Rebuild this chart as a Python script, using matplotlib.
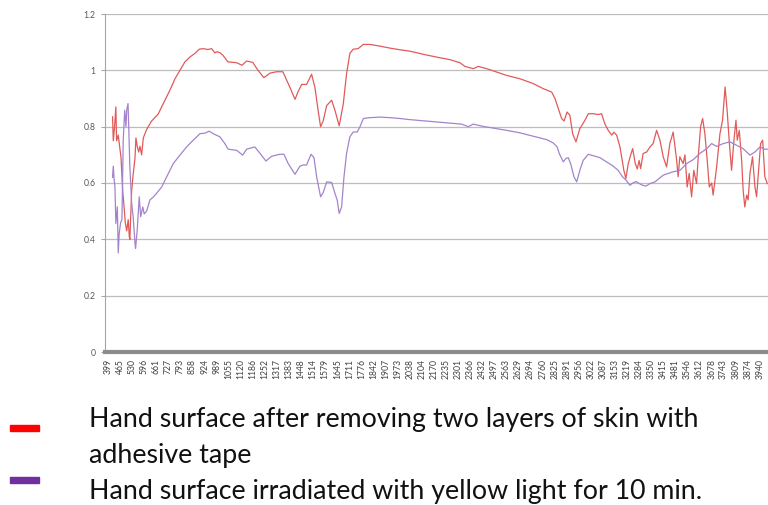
"""
Reflectance spectra of the hand surface (two treatments), Excel-style line chart
"""
import matplotlib
matplotlib.use("Agg")
import matplotlib.pyplot as plt
from matplotlib.patches import Rectangle


# -------------------------------
# DATA
# -------------------------------
tick_labels = [399, 465, 530, 596, 661, 727, 793, 858, 924, 989, 1055, 1120, 1186,
               1252, 1317, 1383, 1448, 1514, 1579, 1645, 1711, 1776, 1842, 1907,
               1973, 2038, 2104, 2170, 2235, 2301, 2366, 2432, 2497, 2563, 2629,
               2694, 2760, 2825, 2891, 2956, 3022, 3087, 3153, 3219, 3284, 3350,
               3415, 3481, 3546, 3612, 3678, 3743, 3809, 3874, 3940]

# tape-stripped hand surface
tape_wn = [424, 428, 435, 442, 446, 455, 464, 470, 479, 486, 493, 501, 509, 515,
           518, 528, 536, 546, 551, 558, 566, 573, 582, 591, 609, 636, 672, 698,
           736, 763, 790, 817, 844, 871, 895, 915, 942, 962, 980, 991, 1007, 1024,
           1051, 1098, 1127, 1152, 1186, 1214, 1246, 1279, 1315, 1349, 1387, 1415,
           1431, 1451, 1478, 1505, 1523, 1541, 1554, 1568, 1587, 1614, 1632, 1655,
           1677, 1695, 1713, 1731, 1758, 1786, 1822, 1876, 1930, 1985, 2039, 2111,
           2184, 2256, 2311, 2338, 2383, 2410, 2456, 2510, 2564, 2637, 2709, 2763,
           2809, 2827, 2845, 2863, 2876, 2893, 2908, 2923, 2941, 2962, 2990, 3008,
           3035, 3062, 3080, 3098, 3116, 3135, 3147, 3162, 3180, 3201, 3212, 3225,
           3238, 3249, 3263, 3274, 3284, 3292, 3306, 3325, 3343, 3360, 3379, 3397,
           3415, 3433, 3451, 3469, 3488, 3496, 3505, 3523, 3533, 3545, 3556, 3569,
           3581, 3596, 3605, 3618, 3629, 3641, 3654, 3665, 3678, 3686, 3705, 3723,
           3737, 3751, 3762, 3773, 3786, 3799, 3810, 3817, 3828, 3841, 3849, 3858,
           3868, 3876, 3886, 3900, 3913, 3922, 3933, 3944, 3955, 3967, 3980]
tape_val = [0.835, 0.75, 0.80, 0.87, 0.75, 0.77, 0.72, 0.69, 0.575, 0.52, 0.46, 0.43,
            0.47, 0.41, 0.40, 0.575, 0.63, 0.69, 0.76, 0.73, 0.71, 0.73, 0.70, 0.76,
            0.79, 0.82, 0.845, 0.88, 0.93, 0.97, 1.0, 1.03, 1.047, 1.06, 1.075,
            1.077, 1.074, 1.077, 1.062, 1.066, 1.063, 1.053, 1.03, 1.027, 1.018,
            1.033, 1.028, 1.0, 0.974, 0.99, 0.995, 0.995, 0.94, 0.897, 0.923, 0.95,
            0.95, 0.986, 0.94, 0.855, 0.80, 0.82, 0.875, 0.894, 0.858, 0.803, 0.88,
            0.988, 1.06, 1.075, 1.077, 1.092, 1.092, 1.086, 1.079, 1.073, 1.068,
            1.057, 1.047, 1.038, 1.027, 1.014, 1.006, 1.014, 1.006, 0.994, 0.982,
            0.97, 0.953, 0.935, 0.923, 0.90, 0.864, 0.829, 0.82, 0.852, 0.84, 0.775,
            0.746, 0.793, 0.823, 0.846, 0.846, 0.843, 0.846, 0.81, 0.787, 0.77, 0.78,
            0.77, 0.728, 0.645, 0.616, 0.669, 0.699, 0.722, 0.669, 0.65, 0.68,
            0.651, 0.705, 0.71, 0.728, 0.74, 0.787, 0.752, 0.693, 0.657, 0.74, 0.781,
            0.68, 0.622, 0.693, 0.669, 0.70, 0.586, 0.634, 0.551, 0.645, 0.598,
            0.693, 0.80, 0.829, 0.776, 0.68, 0.586, 0.60, 0.557, 0.657, 0.775,
            0.823, 0.941, 0.858, 0.752, 0.645, 0.752, 0.823, 0.752, 0.787, 0.68,
            0.574, 0.515, 0.557, 0.54, 0.634, 0.693, 0.586, 0.551, 0.645, 0.74,
            0.752, 0.622, 0.598]

# yellow-light irradiated hand surface
yellow_wn = [424, 428, 433, 437, 442, 450, 455, 460, 468, 475, 482, 490, 497, 501,
             508, 511, 518, 528, 536, 546, 549, 558, 569, 577, 588, 596, 609, 627,
             645, 664, 691, 718, 754, 790, 826, 862, 899, 926, 949, 971, 1007, 1034,
             1052, 1098, 1131, 1152, 1197, 1225, 1257, 1288, 1333, 1355, 1378, 1415,
             1442, 1460, 1478, 1502, 1518, 1533, 1554, 1568, 1587, 1614, 1632, 1644,
             1655, 1668, 1681, 1695, 1713, 1731, 1753, 1768, 1786, 1822, 1876, 1930,
             1985, 2039, 2111, 2184, 2256, 2320, 2356, 2383, 2437, 2492, 2564, 2637,
             2709, 2782, 2818, 2839, 2850, 2872, 2887, 2899, 2912, 2930, 2945, 2962,
             2980, 3008, 3035, 3071, 3107, 3143, 3170, 3194, 3212, 3234, 3249, 3267,
             3285, 3303, 3321, 3343, 3370, 3415, 3469, 3506, 3542, 3578, 3614, 3651,
             3678, 3705, 3741, 3777, 3813, 3849, 3886, 3913, 3940, 3967, 3980]
yellow_val = [0.62, 0.66, 0.61, 0.586, 0.456, 0.515, 0.352, 0.42, 0.46, 0.47, 0.752,
              0.858, 0.80, 0.86, 0.882, 0.82, 0.657, 0.527, 0.48, 0.386, 0.368,
              0.433, 0.551, 0.48, 0.515, 0.49, 0.50, 0.54, 0.55, 0.564, 0.586, 0.622,
              0.669, 0.699, 0.728, 0.752, 0.775, 0.777, 0.784, 0.775, 0.764, 0.74,
              0.72, 0.716, 0.699, 0.72, 0.728, 0.705, 0.678, 0.695, 0.702, 0.702,
              0.669, 0.631, 0.66, 0.664, 0.664, 0.702, 0.69, 0.62, 0.551, 0.566,
              0.604, 0.602, 0.563, 0.54, 0.492, 0.515, 0.622, 0.705, 0.764, 0.781,
              0.781, 0.80, 0.829, 0.832, 0.834, 0.832, 0.829, 0.825, 0.821, 0.817,
              0.813, 0.809, 0.80, 0.809, 0.801, 0.795, 0.787, 0.778, 0.766, 0.754,
              0.742, 0.728, 0.705, 0.675, 0.687, 0.69, 0.669, 0.622, 0.604, 0.645,
              0.68, 0.702, 0.697, 0.69, 0.675, 0.66, 0.645, 0.622, 0.611, 0.592, 0.60,
              0.605, 0.598, 0.592, 0.589, 0.598, 0.604, 0.628, 0.64, 0.645, 0.669,
              0.683, 0.705, 0.722, 0.74, 0.73, 0.74, 0.746, 0.734, 0.722, 0.699,
              0.71, 0.728, 0.72, 0.72]

y_ticks = [0, 0.2, 0.4, 0.6, 0.8, 1, 1.2]

label_tape = "Hand surface after removing two layers of skin with"
label_tape2 = "adhesive tape"
label_yellow = "Hand surface irradiated with yellow light for 10 min."

plt.rcParams["font.family"] = ["Lato", "DejaVu Sans"]

# -------------------------------
# FIGURE
# -------------------------------
fig = plt.figure(figsize=(7.68, 5.05), dpi=100)
ax = fig.add_axes([105 / 768, 153 / 505, 663 / 768, 338 / 505])

ax.plot(tape_wn, tape_val, color="#e15a5a", lw=0.9, zorder=3)
ax.plot(yellow_wn, yellow_val, color="#a384cc", lw=0.9, zorder=3)

ax.set_xlim(383, 3984)
ax.set_ylim(0, 1.2)

ax.set_yticks(y_ticks)
ax.set_yticklabels([f"{v:g}" for v in y_ticks], fontsize=6.2, color="#595959")
ax.set_xticks(tick_labels)
ax.set_xticklabels([str(t) for t in tick_labels], rotation=90, fontsize=6.2,
                   color="#404040")
ax.tick_params(axis="y", length=3, width=0.8, color="#a6a6a6", pad=4)
ax.tick_params(axis="x", length=0, pad=5)

ax.grid(axis="y", color="#bdbdbd", lw=0.9)
ax.set_axisbelow(True)
for side in ["top", "right"]:
    ax.spines[side].set_visible(False)
ax.spines["left"].set_color("#a6a6a6")
ax.spines["left"].set_linewidth(0.8)
ax.spines["bottom"].set_color("#8c8c8c")
ax.spines["bottom"].set_linewidth(3)

# -------------------------------
# LEGEND (below the plot, Excel style)
# -------------------------------
fig.patches.append(Rectangle((10 / 768, 1 - 431 / 505), 29 / 768, 6 / 505,
                             transform=fig.transFigure, color="#ff0000"))
fig.patches.append(Rectangle((10 / 768, 1 - 483 / 505), 29 / 768, 6 / 505,
                             transform=fig.transFigure, color="#7030a0"))
fig.text(89 / 768, 1 - 420 / 505, label_tape, fontsize=19.3, color="#111111",
         va="center")
fig.text(89 / 768, 1 - 456 / 505, label_tape2, fontsize=19.3, color="#111111",
         va="center")
fig.text(89 / 768, 1 - 491 / 505, label_yellow, fontsize=19.3, color="#111111",
         va="center")

fig.savefig("out.png", dpi=100)
